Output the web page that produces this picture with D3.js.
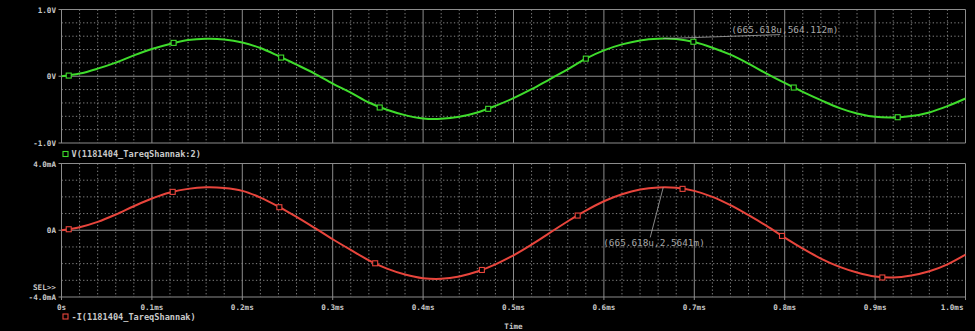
<!DOCTYPE html>
<html><head><meta charset="utf-8">
<script src="https://cdn.jsdelivr.net/npm/d3@7"></script>
<style>html,body{margin:0;padding:0;background:#000;}svg{display:block;}</style>
</head><body>
<svg id="c" width="975" height="331"></svg>
<script>
// ---- data ----
const time = [0,0.02,0.04,0.06,0.08,0.10,0.12,0.14,0.16,0.18,0.20,0.22,0.24,0.26,0.28,0.30,0.32,0.34,0.36,0.38,0.40,0.42,0.44,0.46,0.48,0.50,0.52,0.54,0.56,0.58,0.60,0.62,0.64,0.66,0.68,0.70,0.72,0.74,0.76,0.78,0.80,0.82,0.84,0.86,0.88,0.90,0.92,0.94,0.96,0.98,1.00];
const voltage = [0,0.04,0.114,0.204,0.313,0.408,0.483,0.542,0.562,0.552,0.507,0.423,0.303,0.174,0.04,-0.109,-0.244,-0.393,-0.502,-0.582,-0.632,-0.637,-0.607,-0.542,-0.443,-0.328,-0.194,-0.045,0.104,0.264,0.388,0.478,0.537,0.562,0.557,0.512,0.428,0.323,0.189,0.04,-0.10,-0.234,-0.358,-0.473,-0.557,-0.607,-0.617,-0.597,-0.542,-0.448,-0.333];
const current = [0,0.18,0.50,0.94,1.44,1.90,2.26,2.48,2.57,2.53,2.36,1.96,1.42,0.80,0.14,-0.54,-1.18,-1.80,-2.30,-2.65,-2.87,-2.91,-2.77,-2.47,-2.04,-1.50,-0.86,-0.16,0.54,1.18,1.74,2.16,2.44,2.56,2.54,2.36,2.00,1.50,0.90,0.26,-0.44,-1.10,-1.70,-2.18,-2.53,-2.77,-2.83,-2.71,-2.46,-2.04,-1.46];
const vMarkerT = [0.008,0.124,0.243,0.352,0.472,0.580,0.699,0.810,0.925];
const vMarkerV = [0.01,0.50,0.28,-0.468,-0.488,0.264,0.517,-0.169,-0.614];
const iMarkerT = [0.008,0.123,0.241,0.347,0.465,0.571,0.687,0.797,0.908];
const iMarkerI = [0.06,2.30,1.38,-1.98,-2.38,0.88,2.48,-0.34,-2.83];
const xTickValues = [0,0.1,0.2,0.3,0.4,0.5,0.6,0.7,0.8,0.9,1.0];
const xTickLabels = ["0s","0.1ms","0.2ms","0.3ms","0.4ms","0.5ms","0.6ms","0.7ms","0.8ms","0.9ms","1.0ms"];
const vTickValues = [1,0,-1];
const vTickLabels = ["1.0V","0V","-1.0V"];
const iTickValues = [4,0,-4];
const iTickLabels = ["4.0mA","0A","-4.0mA"];
const vLegend = "V(1181404_TareqShannak:2)";
const iLegend = "-I(1181404_TareqShannak)";
const xTitle = "Time";
const vCursor = {t:0.665618, v:0.564112, label:"(665.618u,564.112m)"};
const iCursor = {t:0.665618, v:2.5641, label:"(665.618u,2.5641m)"};

// ---- layout ----
const svg = d3.select("#c");
svg.append("rect").attr("width",975).attr("height",331).attr("fill","#000");
const x = d3.scaleLinear().domain([0,1.0]).range([61.5,965.5]);
const yV = d3.scaleLinear().domain([-1,1]).range([143,9.5]);
const yI = d3.scaleLinear().domain([-4,4]).range([297,163.5]);

const GREEN="#3fdc2c", RED="#e8453c", GRID="#8c8c8c", MINOR="#9a9a9a", TXT="#c8c8c8";
const tickFont = "'DejaVu Sans Mono', monospace";

function panel(y, yMinorStep, yDomain, tickVals, tickLabs){
  const g = svg.append("g");
  const [y0,y1] = yDomain;
  // minor vertical dotted
  const minorX = d3.range(0,1.0001,0.02).filter(v=>Math.abs(v*10-Math.round(v*10))>1e-6);
  g.selectAll(".mx").data(minorX).join("line")
    .attr("x1",d=>x(d)).attr("x2",d=>x(d)).attr("y1",y(y1)).attr("y2",y(y0))
    .attr("stroke",MINOR).attr("stroke-width",1).attr("stroke-dasharray","1.3,2.3").attr("opacity",0.85);
  // minor horizontal dotted
  const minorY = d3.range(y0,y1+1e-9,yMinorStep).filter(v=>Math.abs(v)>1e-9 && Math.abs(v-y0)>1e-9 && Math.abs(v-y1)>1e-9);
  g.selectAll(".my").data(minorY).join("line")
    .attr("x1",x(0)).attr("x2",x(1)).attr("y1",d=>y(d)).attr("y2",d=>y(d))
    .attr("stroke",MINOR).attr("stroke-width",1).attr("stroke-dasharray","1.3,2.3").attr("opacity",0.85);
  // major vertical solid
  g.selectAll(".Mx").data(xTickValues).join("line")
    .attr("x1",d=>x(d)).attr("x2",d=>x(d)).attr("y1",y(y1)).attr("y2",y(y0))
    .attr("stroke",GRID).attr("stroke-width",1);
  // frame + zero line
  g.selectAll(".My").data([y0,0,y1]).join("line")
    .attr("x1",x(0)-3).attr("x2",x(1)).attr("y1",d=>y(d)).attr("y2",d=>y(d))
    .attr("stroke",GRID).attr("stroke-width",1);
  // y tick labels
  g.selectAll(".yl").data(tickVals).join("text")
    .attr("x",56).attr("y",d=>y(d)+3)
    .attr("text-anchor","end").attr("fill",TXT)
    .attr("font-family",tickFont).attr("font-weight","bold").attr("font-size",7.6)
    .text((d,i)=>tickLabs[i]);
  return g;
}
panel(yV,0.2,[-1,1],vTickValues,vTickLabels);
const gI = panel(yI,1,[-4,4],iTickValues,iTickLabels);

// x tick marks & labels
svg.selectAll(".xt").data(xTickValues).join("line")
  .attr("x1",d=>x(d)).attr("x2",d=>x(d)).attr("y1",yI(-4)).attr("y2",yI(-4)+3)
  .attr("stroke",GRID);
svg.selectAll(".xl").data(xTickValues).join("text")
  .attr("x",(d,i)=> i===xTickValues.length-1 ? x(d)-2 : x(d))
  .attr("y",309.5)
  .attr("text-anchor",(d,i)=> i===xTickValues.length-1 ? "end" : "middle")
  .attr("fill",TXT).attr("font-family",tickFont).attr("font-weight","bold").attr("font-size",7.6)
  .text((d,i)=>xTickLabels[i]);
svg.append("text").attr("x",33).attr("y",289.5).attr("fill",TXT)
  .attr("font-family",tickFont).attr("font-weight","bold").attr("font-size",7.6).text("SEL>>");
svg.append("text").attr("x",(x(0)+x(1))/2).attr("y",329).attr("text-anchor","middle")
  .attr("fill",TXT).attr("font-family",tickFont).attr("font-weight","bold").attr("font-size",7.6).text(xTitle);

// curves
const lineV = d3.line().x((d,i)=>x(time[i])).y(d=>yV(d)).curve(d3.curveCatmullRom.alpha(0.5));
const lineI = d3.line().x((d,i)=>x(time[i])).y(d=>yI(d)).curve(d3.curveCatmullRom.alpha(0.5));
svg.append("path").attr("d",lineV(voltage)).attr("fill","none").attr("stroke",GREEN).attr("stroke-width",2);
svg.append("path").attr("d",lineI(current)).attr("fill","none").attr("stroke",RED).attr("stroke-width",2);

// markers
function markers(ts,vs,y,col){
  svg.append("g").selectAll("rect").data(ts).join("rect")
    .attr("x",d=>x(d)-2.5).attr("y",(d,i)=>y(vs[i])-2.5).attr("width",5).attr("height",5)
    .attr("fill","#000").attr("stroke",col).attr("stroke-width",1.1);
}
markers(vMarkerT,vMarkerV,yV,GREEN);
markers(iMarkerT,iMarkerI,yI,RED);

// legends
function legend(yy,col,txt){
  svg.append("rect").attr("x",63).attr("y",yy-2.5).attr("width",5).attr("height",5)
    .attr("fill","none").attr("stroke",col).attr("stroke-width",1.1);
  svg.append("text").attr("x",71.5).attr("y",yy+3.2).attr("fill",TXT)
    .attr("font-family",tickFont).attr("font-weight","bold").attr("font-size",8.6).text(txt);
}
legend(154,GREEN,vLegend);
legend(316.5,RED,iLegend);

// cursor annotations
const CUR="#a8a8a8";
const ax = x(vCursor.t), ay = yV(vCursor.v);
svg.append("line").attr("x1",ax).attr("y1",ay).attr("x2",ax+117).attr("y2",ay-4)
  .attr("stroke",CUR).attr("stroke-width",0.8);
svg.append("text").attr("x",ax+68).attr("y",ay-5.5).attr("fill",CUR)
  .attr("font-family",tickFont).attr("font-size",9.4).text(vCursor.label);
const bx = x(iCursor.t), by = yI(iCursor.v);
svg.append("line").attr("x1",bx).attr("y1",by).attr("x2",bx-13).attr("y2",by+50)
  .attr("stroke",CUR).attr("stroke-width",0.8);
svg.append("text").attr("x",bx-60).attr("y",by+58.5).attr("fill",CUR)
  .attr("font-family",tickFont).attr("font-size",9.4).text(iCursor.label);
</script>
</body></html>
